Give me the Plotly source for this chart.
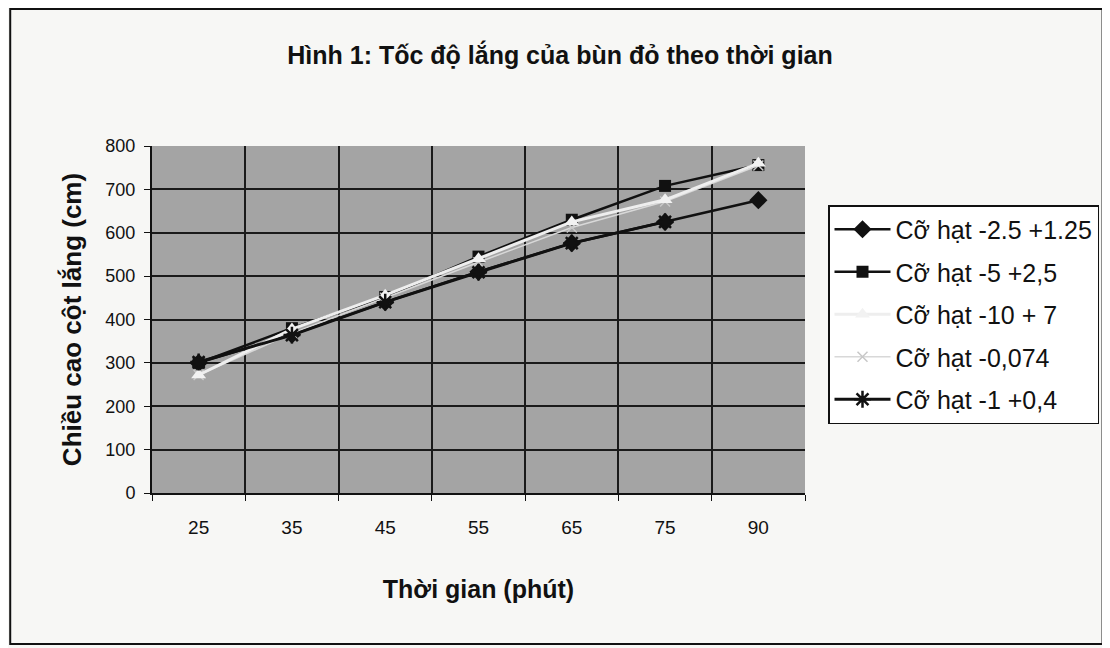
import plotly.graph_objects as go

categories = ["25", "35", "45", "55", "65", "75", "90"]
s_diamond = [300, 365, 440, 510, 576, 625, 675]
s_square = [300, 380, 452, 545, 630, 708, 756]
s_triangle = [272, 378, 456, 540, 625, 676, 760]
s_x = [272, 368, 450, 532, 612, 672, 755]
s_star = [302, 364, 440, 509, 576, 625, None]

names = ["Cỡ hạt -2.5 +1.25", "Cỡ hạt -5 +2,5", "Cỡ hạt -10 + 7", "Cỡ hạt -0,074", "Cỡ hạt -1 +0,4"]

sans = "Liberation Sans, Arial, sans-serif"

# page body has an 8px margin, so the figure is shifted by 8px
W, H = 1102, 640
L, T, R, B = 144, 138, 304, 155
pw, ph = W - L - R, H - T - B

fig = go.Figure()
fig.add_trace(go.Scatter(x=categories, y=s_diamond, name=names[0], mode="lines+markers", legendgroup="a", legendrank=1,
                         line=dict(color="#111111", width=2.5),
                         marker=dict(symbol="diamond", size=14, color="#111111")))
fig.add_trace(go.Scatter(x=categories, y=s_square, name=names[1], mode="lines+markers", legendgroup="b", legendrank=2,
                         line=dict(color="#111111", width=2.5),
                         marker=dict(symbol="square", size=12, color="#111111")))
fig.add_trace(go.Scatter(x=categories, y=s_x, name=names[3], mode="lines+markers", legendgroup="d", legendrank=4,
                         line=dict(color="#d8d8d8", width=1.5),
                         marker=dict(symbol="x-thin-open", size=10, color="#c8c8c8", line=dict(width=1.5, color="#c8c8c8"))))
fig.add_trace(go.Scatter(x=categories, y=s_triangle, name=names[2], mode="lines+markers", legendgroup="c", legendrank=3,
                         line=dict(color="#eeeeee", width=3),
                         marker=dict(symbol="triangle-up", size=13, color="#f2f2f2")))
fig.add_trace(go.Scatter(x=categories, y=s_star, name=names[4], mode="lines+markers", legendgroup="e", legendrank=5,
                         line=dict(color="#111111", width=3),
                         marker=dict(symbol="asterisk-open", size=14, color="#111111", line=dict(width=2.5, color="#111111"))))

fig.update_layout(
    width=W, height=H,
    margin=dict(l=L, r=R, t=T, b=B),
    paper_bgcolor="#f7f7f5",
    plot_bgcolor="#a4a4a4",
    title=dict(text="<b>Hình 1: Tốc độ lắng của bùn đỏ theo thời gian</b>",
               font=dict(family=sans, size=25, color="#111111"),
               x=(560 - 8) / W, xanchor="center", y=1 - (55 - 8) / H, yanchor="middle"),
    xaxis=dict(type="category", categoryorder="array", categoryarray=categories,
               tickson="boundaries", ticks="outside", ticklen=6, tickcolor="#111111",
               showgrid=True, gridcolor="#1a1a1a", gridwidth=1.5,
               showline=True, linecolor="#111111", linewidth=2,
               tickfont=dict(family=sans, size=19, color="#111111"),
               ticklabelstandoff=16,
               range=[-0.5, 6.5],
               title=dict(text="<b>Thời gian (phút)</b>", font=dict(family=sans, size=25, color="#111111"), standoff=44)),
    yaxis=dict(range=[0, 800], dtick=100, ticks="outside", ticklen=6, tickcolor="#111111",
               showgrid=True, gridcolor="#1a1a1a", gridwidth=1.5,
               showline=True, linecolor="#111111", linewidth=2, zeroline=False,
               tickfont=dict(family=sans, size=18, color="#111111"),
               ticklabelstandoff=5,
               title=dict(text="<b>Chiều cao cột lắng (cm)</b>", font=dict(family=sans, size=26, color="#111111"), standoff=16)),
    legend=dict(x=(828 - 152) / pw, y=(493 - 205) / ph, xanchor="left", yanchor="top",
                bgcolor="#ffffff", bordercolor="#111111", borderwidth=1.5,
                font=dict(family=sans, size=25, color="#111111"),
                itemwidth=56,
                tracegroupgap=7, traceorder="grouped"),
    shapes=[dict(type="rect", xref="paper", yref="paper",
                 x0=(10 - 152) / pw, x1=(1104 - 152) / pw,
                 y0=(493 - 644) / ph, y1=(493 - 9) / ph,
                 line=dict(color="#111111", width=2), fillcolor="rgba(0,0,0,0)", layer="below")],
)

fig.write_html("out.html")
